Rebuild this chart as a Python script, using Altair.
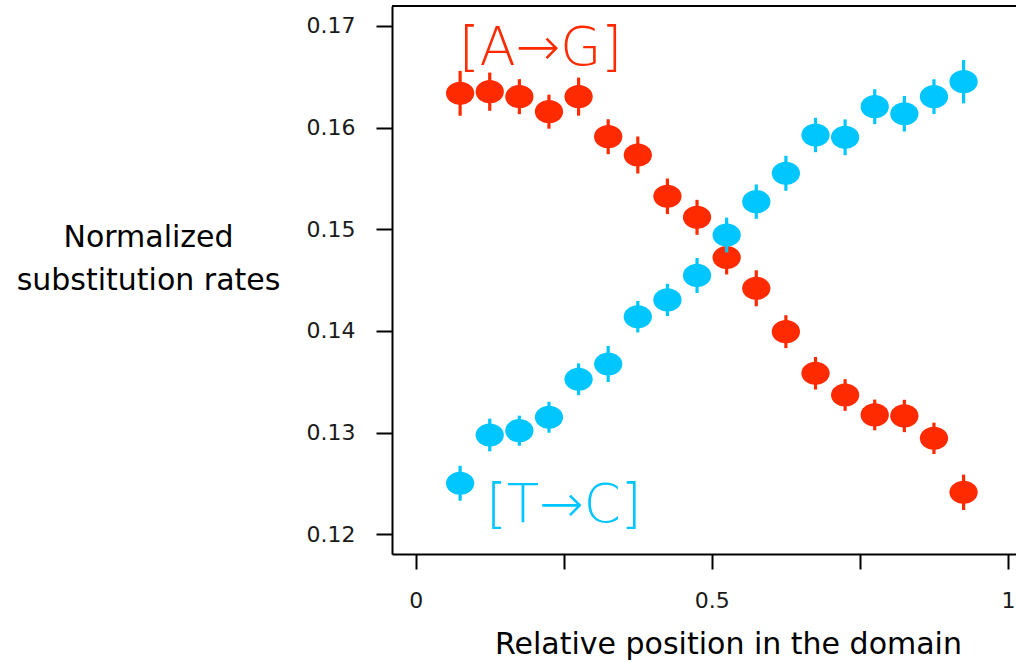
import altair as alt
import pandas as pd

positions = [0.075, 0.125, 0.175, 0.225, 0.275, 0.325, 0.375, 0.425, 0.475,
             0.525, 0.575, 0.625, 0.675, 0.725, 0.775, 0.825, 0.875, 0.925]

ag_rate = [0.16338, 0.16354, 0.16305, 0.16157, 0.16305, 0.15911, 0.15731, 0.15325, 0.15118,
           0.14723, 0.14420, 0.13993, 0.13584, 0.13370, 0.13174, 0.13164, 0.12944, 0.12413]
ag_err = [0.00221, 0.00188, 0.00172, 0.00167, 0.00187, 0.00172, 0.00182, 0.00175, 0.00172,
          0.00167, 0.00177, 0.00162, 0.00160, 0.00156, 0.00151, 0.00159, 0.00154, 0.00174]

tc_rate = [0.12502, 0.12977, 0.13019, 0.13151, 0.13525, 0.13675, 0.14140, 0.14305, 0.14546,
           0.14944, 0.15272, 0.15551, 0.15928, 0.15905, 0.16206, 0.16137, 0.16305, 0.16452]
tc_err = [0.00172, 0.00161, 0.00148, 0.00152, 0.00156, 0.00177, 0.00155, 0.00159, 0.00172,
          0.00171, 0.00169, 0.00172, 0.00169, 0.00176, 0.00172, 0.00175, 0.00171, 0.00213]

series_names = ["[A→G]", "[T→C]"]
series_colors = ["#FF2A00", "#00C6FF"]
label_x = [0.073, 0.119]
label_y = [0.1662, 0.12124]

x_ticks = [0, 0.25, 0.5, 0.75, 1]
y_ticks = [0.12, 0.13, 0.14, 0.15, 0.16, 0.17]

FONT = "DejaVu Sans"
ELLIPSE = "M-1,0 A1,0.82 0 1,0 1,0 A1,0.82 0 1,0 -1,0 Z"

xscale = alt.Scale(domain=[-0.04001, 1.01351], nice=False, zero=False)
yscale = alt.Scale(domain=[0.118062, 0.171967], nice=False, zero=False)

xaxis = alt.Axis(values=x_ticks, labelExpr="datum.value == 0.25 || datum.value == 0.75 ? '' : format(datum.value, '~g')",
                 title="Relative position in the domain", titleX=336, titleY=99,
                 titleAlign="center", titleBaseline="alphabetic", grid=False,
                 tickSize=15, tickWidth=2, domainWidth=2, labelPadding=21)
yaxis = alt.Axis(values=y_ticks, format=".2f", title=["Normalized", "substitution rates"],
                 titleAngle=0, titleX=-244, titleY=240, titleAlign="center",
                 titleBaseline="alphabetic", titleLineHeight=43, grid=False,
                 tickSize=16, tickWidth=2, domainWidth=2, labelPadding=21)

rates = [ag_rate, tc_rate]
errs = [ag_err, tc_err]

layers = []
for i, name in enumerate(series_names):
    df = pd.DataFrame({
        "x": positions,
        "rate": rates[i],
        "lo": [r - e for r, e in zip(rates[i], errs[i])],
        "hi": [r + e for r, e in zip(rates[i], errs[i])],
        "series": name,
    })
    base = alt.Chart(df)
    bars = base.mark_rule(color=series_colors[i], strokeWidth=3.2).encode(
        x=alt.X("x:Q", scale=xscale, axis=xaxis),
        y=alt.Y("lo:Q", scale=yscale, axis=yaxis),
        y2="hi:Q",
    )
    dots = base.mark_point(shape=ELLIPSE, size=800, filled=True, opacity=1,
                           color=series_colors[i], strokeWidth=0).encode(
        x=alt.X("x:Q", scale=xscale, axis=xaxis),
        y=alt.Y("rate:Q", scale=yscale, axis=yaxis),
    )
    lab = alt.Chart(pd.DataFrame({"x": [label_x[i]], "y": [label_y[i]], "t": [name]})).mark_text(
        align="left", baseline="alphabetic", font=FONT, fontSize=53, fontWeight=200,
        color=series_colors[i]
    ).encode(
        x=alt.X("x:Q", scale=xscale, axis=xaxis),
        y=alt.Y("y:Q", scale=yscale, axis=yaxis),
        text="t:N",
    )
    layers += [bars, dots, lab]

top_border = alt.Chart(pd.DataFrame({"a": [0]})).mark_rule(color="black", strokeWidth=2).encode(
    y=alt.value(0)
)
layers.append(top_border)

chart = alt.layer(*layers).properties(
    width=624, height=548,
    autosize=alt.AutoSizeParams(type="none"),
    padding={"left": 392, "top": 6, "right": 0, "bottom": 108},
    background="white",
).configure_view(stroke=None).configure_axis(
    labelFont=FONT, labelFontSize=22, labelColor="#1a1a1a",
    titleFont=FONT, titleFontSize=30, titleFontWeight="normal", titleColor="black",
    domainColor="black", tickColor="black",
)

chart.save("out.html", embed_options={"renderer": "svg", "actions": False})
